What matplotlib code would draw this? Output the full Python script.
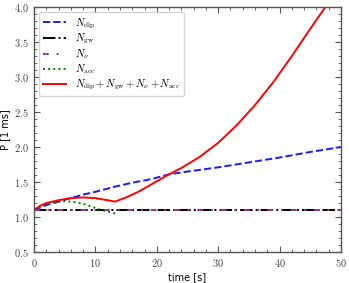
import matplotlib
matplotlib.use("Agg")
import matplotlib.pyplot as plt
from matplotlib.ticker import MultipleLocator, FuncFormatter

plt.rcParams['mathtext.fontset'] = 'cm'

t_dip = [0, 2, 4, 6, 8, 10, 13, 16, 19, 22, 25, 30, 35, 40, 45, 50]
P_dip = [1.10, 1.17, 1.22, 1.27, 1.32, 1.36, 1.43, 1.49, 1.54, 1.61, 1.65, 1.71, 1.78, 1.85, 1.93, 2.00]

t_const = [0, 50]
P_gw = [1.10, 1.10]
P_nu = [1.10, 1.10]

t_acc = [0, 1, 2, 3, 4, 5, 6, 7, 8, 9, 10, 11, 12, 13.2]
P_acc = [1.10, 1.15, 1.18, 1.21, 1.22, 1.225, 1.22, 1.21, 1.19, 1.16, 1.13, 1.10, 1.08, 1.05]

t_tot = [0, 1, 2, 4, 6, 8, 10, 12, 13.2, 15, 17, 19, 22, 24, 27, 30, 33, 36, 39, 42, 45, 47.7]
P_tot = [1.10, 1.16, 1.20, 1.24, 1.27, 1.28, 1.27, 1.24, 1.22, 1.28, 1.36, 1.46, 1.61, 1.70, 1.86, 2.06, 2.31, 2.60, 2.93, 3.30, 3.69, 4.03]

labels = [r'$N_{\rm dip}$', r'$N_{\rm gw}$', r'$N_{\nu}$', r'$N_{\rm acc}$',
          r'$N_{\rm dip}+N_{\rm gw}+N_{\nu}+N_{\rm acc}$']

fig = plt.figure(figsize=(3.49, 2.83), dpi=100)
ax = fig.add_axes([0.0974, 0.1095, 0.8796, 0.8655])

ax.plot(t_dip, P_dip, color='#1a1aff', ls='--', lw=1.4, label=labels[0])
ax.plot(t_const, P_gw, color='black', ls='-.', lw=1.4, label=labels[1])
ax.plot(t_const, P_nu, color='#993399', ls=(0, (3, 4, 1, 4)), lw=1.4, label=labels[2])
ax.plot(t_acc, P_acc, color='green', ls=':', lw=1.4, label=labels[3])
ax.plot(t_tot, P_tot, color='red', ls='-', lw=1.4, label=labels[4])

ax.set_xlim(0, 50)
ax.set_ylim(0.5, 4.0)
ax.xaxis.set_major_locator(MultipleLocator(10))
ax.xaxis.set_minor_locator(MultipleLocator(2))
ax.yaxis.set_major_locator(MultipleLocator(0.5))
ax.yaxis.set_minor_locator(MultipleLocator(0.1))
ax.xaxis.set_major_formatter(FuncFormatter(lambda v, p: r'$%d$' % round(v)))
ax.yaxis.set_major_formatter(FuncFormatter(lambda v, p: r'$%.1f$' % v))
ax.tick_params(which='both', direction='in', top=True, right=True, colors='#555555',
               labelcolor='#444444', labelsize=7.5)
ax.tick_params(which='major', length=4, width=0.8)
ax.tick_params(which='minor', length=2, width=0.6)
for s in ax.spines.values():
    s.set_color('#555555')
    s.set_linewidth(1.0)

ax.set_xlabel('time [s]', fontsize=7, labelpad=2)
ax.set_ylabel('P [1 ms]', fontsize=7, labelpad=3)

ax.legend(loc='upper left', fontsize=7.5, handlelength=2.2, labelspacing=0.12,
          handletextpad=0.8, borderpad=0.4, frameon=True, edgecolor='#cccccc')

fig.savefig('out.png', dpi=100)
